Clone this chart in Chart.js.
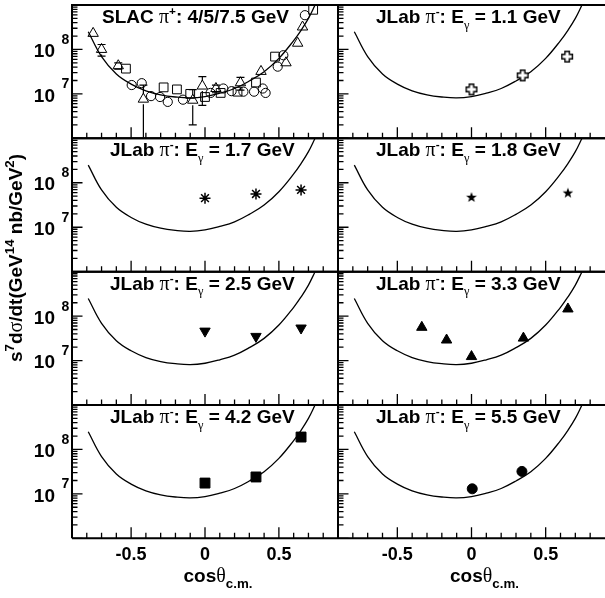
<!DOCTYPE html>
<html>
<head>
<meta charset="utf-8">
<script src="https://cdn.jsdelivr.net/npm/chart.js@4.4.1/dist/chart.umd.min.js"></script>
<style>
  html, body { margin: 0; padding: 0; background: #fff; }
  #wrap { position: relative; width: 605px; height: 598px; overflow: hidden; }
  #wrap canvas { position: absolute; left: 0; top: 0; }
</style>
</head>
<body>
<div id="wrap"></div>
<script>
// fit curve, same in every panel
const fitX = [-0.79, -0.7, -0.6, -0.5, -0.4, -0.3, -0.2, -0.1, 0, 0.1, 0.2, 0.3, 0.4, 0.5, 0.6, 0.65, 0.7, 0.745];
const fitY = [2.5e8, 6.9e7, 2.8e7, 1.66e7, 1.17e7, 9.5e6, 8.5e6, 8.1e6, 8.7e6, 1.04e7, 1.32e7, 1.95e7, 3.16e7, 6.3e7, 1.58e8, 2.7e8, 5.0e8, 1.0e9];

// SLAC pi+ (4/5/7.5 GeV)
const slacTriX = [-0.757, -0.70, -0.587, -0.417, -0.083, -0.018, 0.074, 0.24, 0.379, 0.548, 0.627, 0.66];
const slacTriY = [2.3e8, 1.0e8, 4.3e7, 7.6e6, 7.2e6, 1.5e7, 1.32e7, 1.78e7, 3.2e7, 5.0e7, 1.38e8, 3.2e8];
const slacTriErr = [0, 2.9e7, 7e6, 8.2e6, 5.2e6, 9.5e6, 2.6e6, 5.6e6, 0, 0, 0, 0];
const slacSqX = [-0.535, -0.28, -0.19, -0.1, 0.0, 0.106, 0.22, 0.345, 0.474, 0.732];
const slacSqY = [3.7e7, 1.4e7, 1.26e7, 1.0e7, 8.5e6, 1.05e7, 1.12e7, 1.8e7, 6.9e7, 7.8e8];
const slacCircX = [-0.496, -0.428, -0.365, -0.304, -0.252, -0.149, 0.038, 0.124, 0.18, 0.26, 0.332, 0.391, 0.41, 0.492, 0.53, 0.676];
const slacCircY = [1.58e7, 1.74e7, 8.9e6, 8.5e6, 6.6e6, 7.4e6, 1.05e7, 1.32e7, 1.15e7, 1.12e7, 1.12e7, 1.32e7, 1.05e7, 4.1e7, 7.4e7, 5.9e8];

// JLab pi- points
const j11X = [0.0, 0.345, 0.645];
const j11Y = [1.26e7, 2.6e7, 6.9e7];
const j17X = [0.0, 0.345, 0.65];
const j17Y = [4.5e7, 5.6e7, 6.9e7];
const j18X = [0.0, 0.65];
const j18Y = [4.8e7, 6.0e7];
const j25X = [0.0, 0.345, 0.65];
const j25Y = [4.6e7, 3.5e7, 5.4e7];
const j33X = [-0.335, -0.168, 0.0, 0.35, 0.65];
const j33Y = [5.6e7, 2.9e7, 1.23e7, 3.2e7, 1.45e8];
const j42X = [0.0, 0.345, 0.65];
const j42Y = [1.75e7, 2.4e7, 1.9e8];
const j55X = [0.005, 0.34];
const j55Y = [1.3e7, 3.2e7];

// axes
const xMajor = [-0.5, 0, 0.5];
const xMajorLabels = ['-0.5', '0', '0.5'];
const xMinor = [-0.8, -0.7, -0.6, -0.4, -0.3, -0.2, -0.1, 0.1, 0.2, 0.3, 0.4, 0.6, 0.7, 0.8];
const yDecades = [1e6, 1e7, 1e8, 1e9];
const yLabelExp = [7, 8];
const yMinorMult = [2, 3, 4, 5, 6, 7, 8, 9];

const W = 605, H = 598;
const colEdges = [72, 338, 605];
const rowEdges = [5, 138.3, 271.7, 405, 538.3];
const FONT = '"Liberation Sans", Arial, Helvetica, sans-serif';
const GREEK = '"Liberation Serif", "Times New Roman", serif';

function drawRich(ctx, parts, x, y, size, align, supScale) {
  const sc = supScale || 0.7;
  const specs = parts.map(([t, k]) => {
    const small = k === 'sup' || k === 'sub' || k === 'gsub';
    const s = small ? size * sc : size;
    const greek = k === 'g' || k === 'gsub';
    const font = greek ? `${s * 1.05}px ${GREEK}` : `bold ${s}px ${FONT}`;
    const dy = k === 'sup' ? -size * 0.42 : (k === 'sub' || k === 'gsub') ? size * 0.3 : 0;
    ctx.font = font;
    return { t, font, dy, w: ctx.measureText(t).width };
  });
  const total = specs.reduce((a, s) => a + s.w, 0);
  let cx = align === 'center' ? x - total / 2 : align === 'right' ? x - total : x;
  ctx.textAlign = 'left';
  ctx.textBaseline = 'alphabetic';
  ctx.fillStyle = '#000';
  for (const s of specs) {
    ctx.font = s.font;
    ctx.fillText(s.t, cx, y + s.dy);
    cx += s.w;
  }
}

// marker images
function makeMarker(size, draw) {
  const c = document.createElement('canvas');
  c.width = size; c.height = size;
  draw(c.getContext('2d'), size / 2);
  return c;
}
const openCross = makeMarker(14, (g, m) => {
  const a = 2.2, l = 5.3;
  g.beginPath();
  g.moveTo(m - a, m - l); g.lineTo(m + a, m - l); g.lineTo(m + a, m - a);
  g.lineTo(m + l, m - a); g.lineTo(m + l, m + a); g.lineTo(m + a, m + a);
  g.lineTo(m + a, m + l); g.lineTo(m - a, m + l); g.lineTo(m - a, m + a);
  g.lineTo(m - l, m + a); g.lineTo(m - l, m - a); g.lineTo(m - a, m - a);
  g.closePath();
  g.fillStyle = '#fff'; g.fill();
  g.lineWidth = 1.4; g.strokeStyle = '#000'; g.stroke();
});
const filledStar = makeMarker(14, (g, m) => {
  g.beginPath();
  for (let i = 0; i < 10; i++) {
    const r = i % 2 ? 2.3 : 5.6;
    const ang = -Math.PI / 2 + i * Math.PI / 5;
    const px = m + r * Math.cos(ang), py = m + 0.5 + r * Math.sin(ang);
    i ? g.lineTo(px, py) : g.moveTo(px, py);
  }
  g.closePath();
  g.fillStyle = '#000'; g.fill();
});

function pts(xs, ys) { return xs.map((x, i) => ({ x, y: ys[i] })); }
function fitSet() {
  return { type: 'line', data: pts(fitX, fitY), borderColor: '#000', borderWidth: 1.3,
    pointRadius: 0, tension: 0.4, fill: false };
}
function markSet(xs, ys, style) {
  return Object.assign({ type: 'scatter', data: pts(xs, ys), pointBorderColor: '#000',
    pointBackgroundColor: '#000', pointBorderWidth: 1, pointRadius: 5, showLine: false }, style);
}
function jlabTitle(e) {
  return [['JLab ', ''], ['π', 'g'], ['-', 'sup'], [': E', ''], ['γ', 'gsub'], [' = ' + e + ' GeV', '']];
}
const hollow = 'rgba(0,0,0,0)';

const panels = [
  { col: 0, row: 0, tx: 30, title: [['SLAC ', ''], ['π', 'g'], ['+', 'sup'], [': 4/5/7.5 GeV', '']],
    err: { x: slacTriX, y: slacTriY, e: slacTriErr },
    sets: [
      markSet(slacTriX, slacTriY, { pointStyle: 'triangle', pointRadius: 6, pointBackgroundColor: hollow }),
      markSet(slacSqX, slacSqY, { pointStyle: 'rect', pointRadius: 6.2, pointBackgroundColor: hollow }),
      markSet(slacCircX, slacCircY, { pointStyle: 'circle', pointRadius: 4.6, pointBackgroundColor: hollow })
    ] },
  { col: 1, row: 0, tx: 38, title: jlabTitle('1.1'), sets: [markSet(j11X, j11Y, { pointStyle: openCross })] },
  { col: 0, row: 1, tx: 38, title: jlabTitle('1.7'), sets: [markSet(j17X, j17Y, { pointStyle: 'star', pointRadius: 5.5, pointBorderWidth: 1.5 })] },
  { col: 1, row: 1, tx: 38, title: jlabTitle('1.8'), sets: [markSet(j18X, j18Y, { pointStyle: filledStar })] },
  { col: 0, row: 2, tx: 38, title: jlabTitle('2.5'), sets: [markSet(j25X, j25Y, { pointStyle: 'triangle', pointRadius: 6, pointRotation: 180 })] },
  { col: 1, row: 2, tx: 38, title: jlabTitle('3.3'), sets: [markSet(j33X, j33Y, { pointStyle: 'triangle', pointRadius: 6 })] },
  { col: 0, row: 3, tx: 38, title: jlabTitle('4.2'), sets: [markSet(j42X, j42Y, { pointStyle: 'rect', pointRadius: 7 })] },
  { col: 1, row: 3, tx: 38, title: jlabTitle('5.5'), sets: [markSet(j55X, j55Y, { pointStyle: 'circle', pointRadius: 5 })] }
];

function panelPlugin(p) {
  return {
    id: 'panel',
    beforeDatasetsDraw(chart) {
      if (!p.err) return;
      const { ctx, chartArea: a, scales: { x, y } } = chart;
      ctx.save();
      ctx.beginPath();
      ctx.rect(a.left, a.top, a.right - a.left, a.bottom - a.top);
      ctx.clip();
      ctx.strokeStyle = '#000';
      ctx.lineWidth = 1.2;
      p.err.x.forEach((xv, i) => {
        const e = p.err.e[i];
        if (!e) return;
        const px = x.getPixelForValue(xv);
        const py = y.getPixelForValue(p.err.y[i]);
        const top = y.getPixelForValue(p.err.y[i] + e);
        const lo = p.err.y[i] - e;
        const bot = lo > 0 ? y.getPixelForValue(lo) : a.bottom + 20;
        ctx.beginPath();
        if (top < py - 5) { ctx.moveTo(px, top); ctx.lineTo(px, py - 5); }
        if (bot > py + 5) { ctx.moveTo(px, py + 5); ctx.lineTo(px, bot); }
        ctx.moveTo(px - 4, top); ctx.lineTo(px + 4, top);
        ctx.moveTo(px - 4, bot); ctx.lineTo(px + 4, bot);
        ctx.stroke();
      });
      ctx.restore();
    },
    afterDraw(chart) {
      const { ctx, chartArea: a, scales: { x, y } } = chart;
      ctx.save();
      ctx.strokeStyle = '#000';
      // ticks
      ctx.lineWidth = 1.3;
      ctx.beginPath();
      xMajor.forEach(v => { const px = x.getPixelForValue(v); ctx.moveTo(px, a.bottom); ctx.lineTo(px, a.bottom - 11); });
      xMinor.forEach(v => { const px = x.getPixelForValue(v); ctx.moveTo(px, a.bottom); ctx.lineTo(px, a.bottom - 5.5); });
      yDecades.forEach(d => {
        const py = y.getPixelForValue(d);
        if (py >= a.top && py <= a.bottom) { ctx.moveTo(a.left, py); ctx.lineTo(a.left + 10.5, py); }
        if (d >= 1e9) return;
        yMinorMult.forEach(m => {
          const q = y.getPixelForValue(d * m);
          ctx.moveTo(a.left, q); ctx.lineTo(a.left + 5.5, q);
        });
      });
      ctx.stroke();
      // frame
      ctx.lineWidth = 2;
      ctx.beginPath();
      ctx.moveTo(a.left, a.bottom); ctx.lineTo(a.left, a.top); ctx.lineTo(a.right, a.top);
      ctx.moveTo(a.left, a.bottom); ctx.lineTo(a.right, a.bottom);
      ctx.stroke();
      // tick labels
      if (p.col === 0) {
        yLabelExp.forEach(n => {
          const py = y.getPixelForValue(Math.pow(10, n));
          ctx.fillStyle = '#000';
          ctx.font = `bold 19px ${FONT}`;
          ctx.textAlign = 'right'; ctx.textBaseline = 'alphabetic';
          ctx.fillText('10', a.left - 17, py + 7.7);
          ctx.font = `bold 14px ${FONT}`;
          ctx.textAlign = 'left';
          ctx.fillText(String(n), a.left - 10.5, py - 5.6);
        });
      }
      if (p.row === 3) {
        ctx.fillStyle = '#000';
        ctx.font = `bold 18px ${FONT}`;
        ctx.textAlign = 'center'; ctx.textBaseline = 'alphabetic';
        xMajor.forEach((v, i) => ctx.fillText(xMajorLabels[i], x.getPixelForValue(v), a.bottom + 21.7));
      }
      // panel title
      drawRich(ctx, p.title, a.left + p.tx, a.top + 18, 19, 'left', 0.62);
      ctx.restore();
    }
  };
}

const decorPlugin = {
  id: 'decor',
  afterDraw(chart) {
    const ctx = chart.ctx;
    ctx.save();
    ctx.translate(21.7, 258);
    ctx.rotate(-Math.PI / 2);
    drawRich(ctx, [['s', ''], ['7', 'sup'], ['d', ''], ['σ', 'g'], ['/dt(GeV', ''], ['14', 'sup'],
      [' nb/GeV', ''], ['2', 'sup'], [')', '']], 0, 0, 19, 'center');
    ctx.restore();
    [0, 1].forEach(c => {
      const cx = (colEdges[c] + colEdges[c + 1]) / 2 + 13;
      drawRich(ctx, [['cos', ''], ['θ', 'g'], ['c.m.', 'sub']], cx, 582, 19, 'center');
    });
  }
};

const wrap = document.getElementById('wrap');
panels.forEach((p, idx) => {
  const cv = document.createElement('canvas');
  cv.width = W; cv.height = H;
  wrap.appendChild(cv);
  const x0 = colEdges[p.col], x1 = colEdges[p.col + 1];
  const y0 = rowEdges[p.row], y1 = rowEdges[p.row + 1];
  const plugins = [panelPlugin(p)];
  if (idx === 0) plugins.push(decorPlugin);
  new Chart(cv.getContext('2d'), {
    data: { datasets: [...p.sets, fitSet()] },
    options: {
      responsive: false,
      animation: false,
      events: [],
      layout: { autoPadding: false, padding: { left: x0, right: W - x1, top: y0, bottom: H - y1 } },
      plugins: { legend: { display: false }, tooltip: { enabled: false } },
      scales: {
        x: { type: 'linear', min: -0.9, max: 0.9, display: false },
        y: { type: 'logarithmic', min: 1e6, max: 1e9, display: false }
      }
    },
    plugins
  });
});
</script>
</body>
</html>
